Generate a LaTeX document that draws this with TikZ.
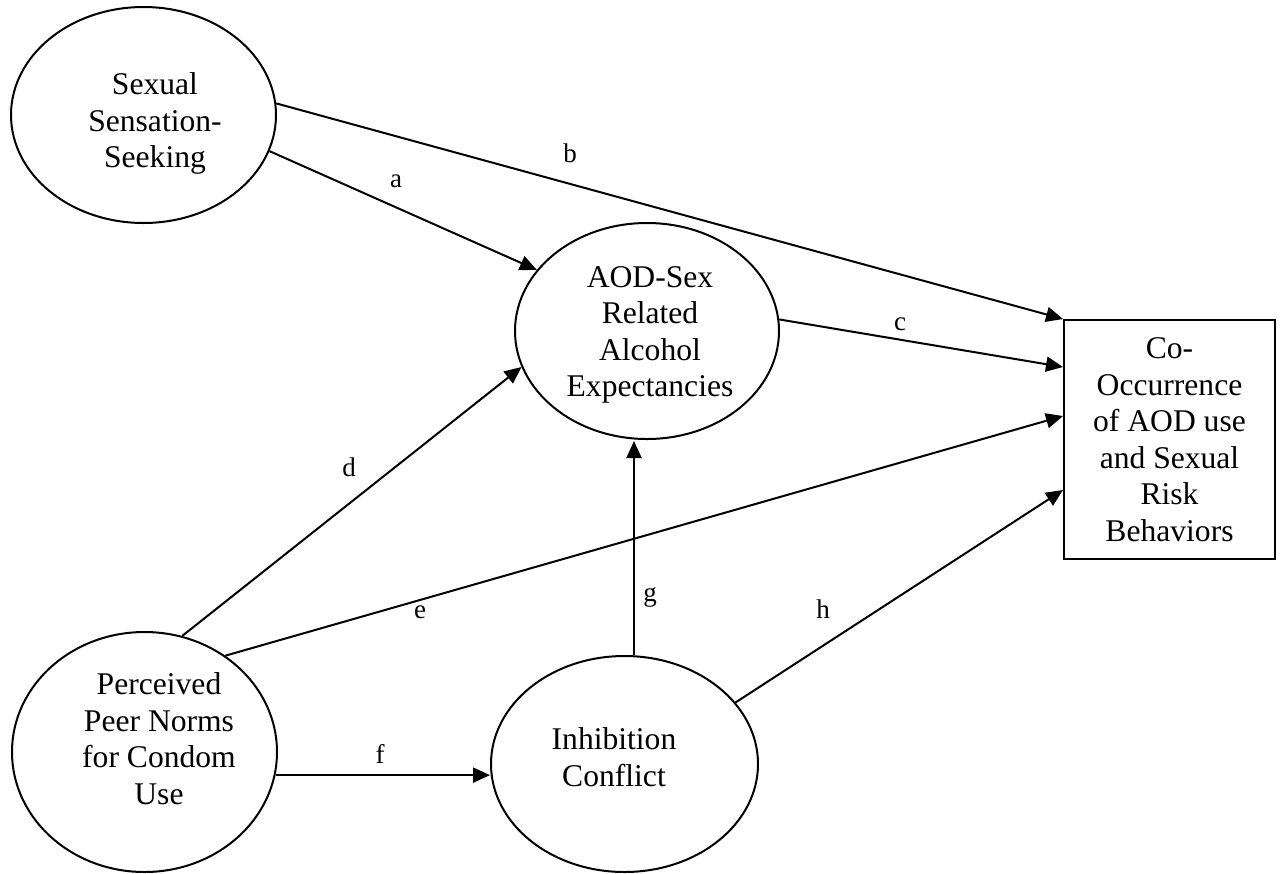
\documentclass[tikz,border=0pt]{standalone}
\usepackage{fontspec}
\setmainfont{Liberation Serif}
\usetikzlibrary{arrows.meta,shapes.geometric}
\begin{document}
\begin{tikzpicture}[x=1pt,y=-1pt,
  oval/.style={ellipse,draw,line width=2pt,inner sep=0pt},
  txt/.style={align=center,inner sep=0pt,font=\fontsize{31.6}{36.5}\selectfont},
  lab/.style={anchor=base,inner sep=0pt,font=\fontsize{27}{30}\selectfont},
  arr/.style={line width=2pt,-{Triangle[length=17pt,width=15pt]}}]
\useasboundingbox (0,0) rectangle (1284,873);
% nodes
\node[oval,minimum width=265pt,minimum height=216pt] (sss) at (143.5,115) {};
\node[txt] (sss-t) at (155,123.7) {Sexual\\Sensation-\\Seeking};
\node[oval,minimum width=264pt,minimum height=216pt] (aod) at (647,331) {};
\node[txt] (aod-t) at (650,334.7) {AOD-Sex\\Related\\Alcohol\\Expectancies};
\node[oval,minimum width=265pt,minimum height=240pt] (ppn) at (144.5,752) {};
\node[txt] (ppn-t) at (159,738.7) {Perceived\\Peer Norms\\for Condom\\Use};
\node[oval,minimum width=267pt,minimum height=216pt] (ic) at (624.5,764) {};
\node[txt] (ic-t) at (614,757.2) {Inhibition\\Conflict};
\node[draw,line width=2pt,inner sep=0pt,minimum width=211pt,minimum height=239pt,txt] (box) at (1169.5,439.5) {Co-\\Occurrence\\of AOD use\\and Sexual\\Risk\\Behaviors};
% connectors
\draw[arr] (sss.-16) -- (aod.151);
\draw[arr] (sss.5) -- (box.north west);
\draw[arr] (aod.5) -- ([yshift=72.5pt]box.west);
\draw[arr] (ppn.72) -- (aod.-164);
\draw[arr] (ppn.50.6) -- ([yshift=23.5pt]box.west);
\draw[arr] (ppn.-10) -- (ppn.-10 -| ic.west);
\draw[arr] ([xshift=9.5pt]ic.north) -- ([xshift=9.5pt,yshift=-1pt]ic.north |- aod.south);
\draw[arr] (ic.29.7) -- ([yshift=-50.5pt]box.west);
% labels
\node[lab] (la) at (396,187) {a};
\node[lab] (lb) at (570,162) {b};
\node[lab] (lc) at (900,330) {c};
\node[lab] (ld) at (349,476) {d};
\node[lab] (le) at (420,618) {e};
\node[lab] (lf) at (380,763) {f};
\node[lab] (lg) at (650,601) {g};
\node[lab] (lh) at (823,618) {h};
\end{tikzpicture}
\end{document}
